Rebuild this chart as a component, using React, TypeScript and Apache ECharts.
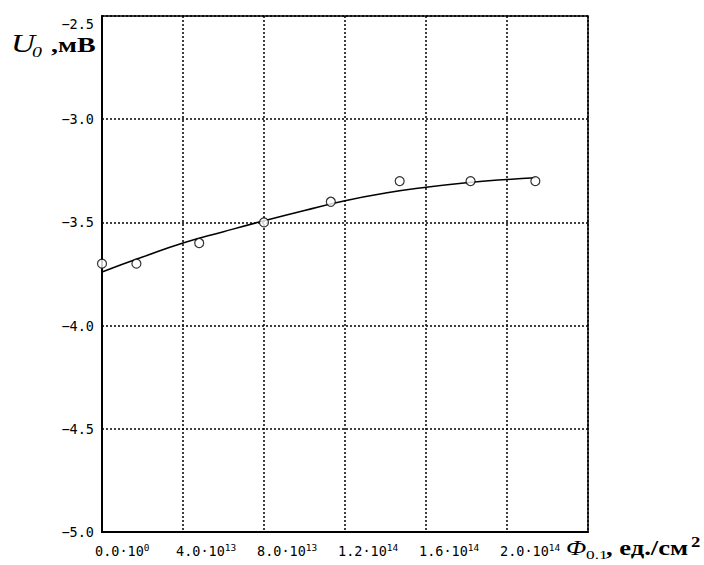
import React, { useEffect, useRef } from "react";
import * as echarts from "echarts";

// Measured points: fluence Φ (units/cm²) vs U0 (mV)
const fluence = [0, 1.7e13, 4.8e13, 8.0e13, 1.13e14, 1.47e14, 1.82e14, 2.14e14];
const voltage = [-3.7, -3.7, -3.6, -3.5, -3.4, -3.3, -3.3, -3.3];

// Approximating curve through the measurements
const fitFluence = [0, 2e13, 4e13, 6e13, 8e13, 1e14, 1.2e14, 1.4e14, 1.6e14, 1.8e14, 2.0e14, 2.14e14];
const fitVoltage = [-3.74, -3.668, -3.6, -3.545, -3.492, -3.442, -3.395, -3.358, -3.33, -3.308, -3.292, -3.284];

// X tick labels as mantissa / power of ten, one per 4·10¹³ step
const xTickMantissa = ["0.0", "4.0", "8.0", "1.2", "1.6", "2.0"];
const xTickPower = ["0", "13", "13", "14", "14", "14"];
const X_STEP = 4e13;
const Y_MAX = -2.5;

const MONO = "DejaVu Sans Mono";
const SERIF = "Liberation Serif";
const STRETCH = 1.33;

export default function App() {
  const ref = useRef<HTMLDivElement>(null);

  useEffect(() => {
    if (!ref.current) return;
    const chart = echarts.init(ref.current, null, { renderer: "svg" });

    const serifText = (
      text: string,
      x: number,
      y: number,
      size: number,
      weight: string,
      style: string
    ) => ({
      type: "text",
      x,
      y,
      scaleX: STRETCH,
      style: {
        text,
        fill: "#000",
        font: `${style} ${weight} ${size}px "${SERIF}"`,
        align: "left",
        verticalAlign: "middle",
      },
    });

    chart.setOption({
      animation: false,
      backgroundColor: "#fff",
      grid: {
        left: 102,
        right: 116,
        top: 16,
        bottom: 33,
        show: true,
        borderColor: "#000",
        borderWidth: 1.5,
      },
      xAxis: {
        type: "value",
        min: 0,
        max: 2.4e14,
        interval: X_STEP,
        axisLine: { show: true, onZero: false, lineStyle: { color: "#000", width: 2 } },
        axisTick: { show: false },
        splitLine: { show: true, lineStyle: { color: "#000", width: 1.5, type: [2, 2] } },
        axisLabel: {
          margin: 10,
          align: "left",
          padding: [0, 0, 0, -7],
          formatter: (v: number) => {
            const i = Math.round(v / X_STEP);
            if (i >= xTickMantissa.length) return "";
            return `{n|${xTickMantissa[i]}·10}{s|${xTickPower[i]}}`;
          },
          rich: {
            n: { fontFamily: MONO, fontSize: 13.5, color: "#000", lineHeight: 16, verticalAlign: "bottom" },
            s: { fontFamily: MONO, fontSize: 9.5, color: "#000", lineHeight: 8, verticalAlign: "top" },
          },
        },
      },
      yAxis: {
        type: "value",
        min: -5,
        max: Y_MAX,
        interval: 0.5,
        axisLine: { show: true, onZero: false, lineStyle: { color: "#000", width: 2 } },
        axisTick: { show: false },
        splitLine: { show: true, lineStyle: { color: "#000", width: 1.5, type: [2, 2] } },
        axisLabel: {
          margin: 8,
          formatter: (v: number) => {
            const t = v.toFixed(1).replace("-", "\u2212");
            return Math.abs(v - Y_MAX) < 1e-9 ? `{top|${t}}` : `{v|${t}}`;
          },
          rich: {
            v: { fontFamily: MONO, fontSize: 13.5, color: "#000" },
            top: { fontFamily: MONO, fontSize: 13.5, color: "#000", padding: [16, 0, 0, 0] },
          },
        },
      },
      series: [
        {
          type: "line",
          data: fitFluence.map((x, i) => [x, fitVoltage[i]]),
          smooth: true,
          showSymbol: false,
          clip: false,
          lineStyle: { color: "#000", width: 1.5 },
          z: 2,
        },
        {
          type: "scatter",
          data: fluence.map((x, i) => [x, voltage[i]]),
          symbol: "circle",
          symbolSize: 9,
          clip: false,
          itemStyle: { color: "#fff", borderColor: "#000", borderWidth: 1.2 },
          z: 3,
        },
      ],
      graphic: [
        serifText("U", 11, 43.5, 25, "normal", "italic"),
        serifText("0", 32, 51.5, 15, "normal", "italic"),
        serifText(",", 51, 44.5, 21, "bold", "normal"),
        serifText("мВ", 58, 44.5, 21, "bold", "normal"),
        serifText("Φ", 566, 548.5, 20, "normal", "italic"),
        serifText("0.1", 586, 554, 13, "normal", "normal"),
        serifText(", ед./см", 606, 548.3, 20, "bold", "normal"),
        serifText("2", 691, 542, 14, "bold", "normal"),
      ],
    });

    return () => chart.dispose();
  }, []);

  return (
    <div
      ref={ref}
      style={{ position: "fixed", left: 0, top: 0, width: 704, height: 565, background: "#fff" }}
    />
  );
}
